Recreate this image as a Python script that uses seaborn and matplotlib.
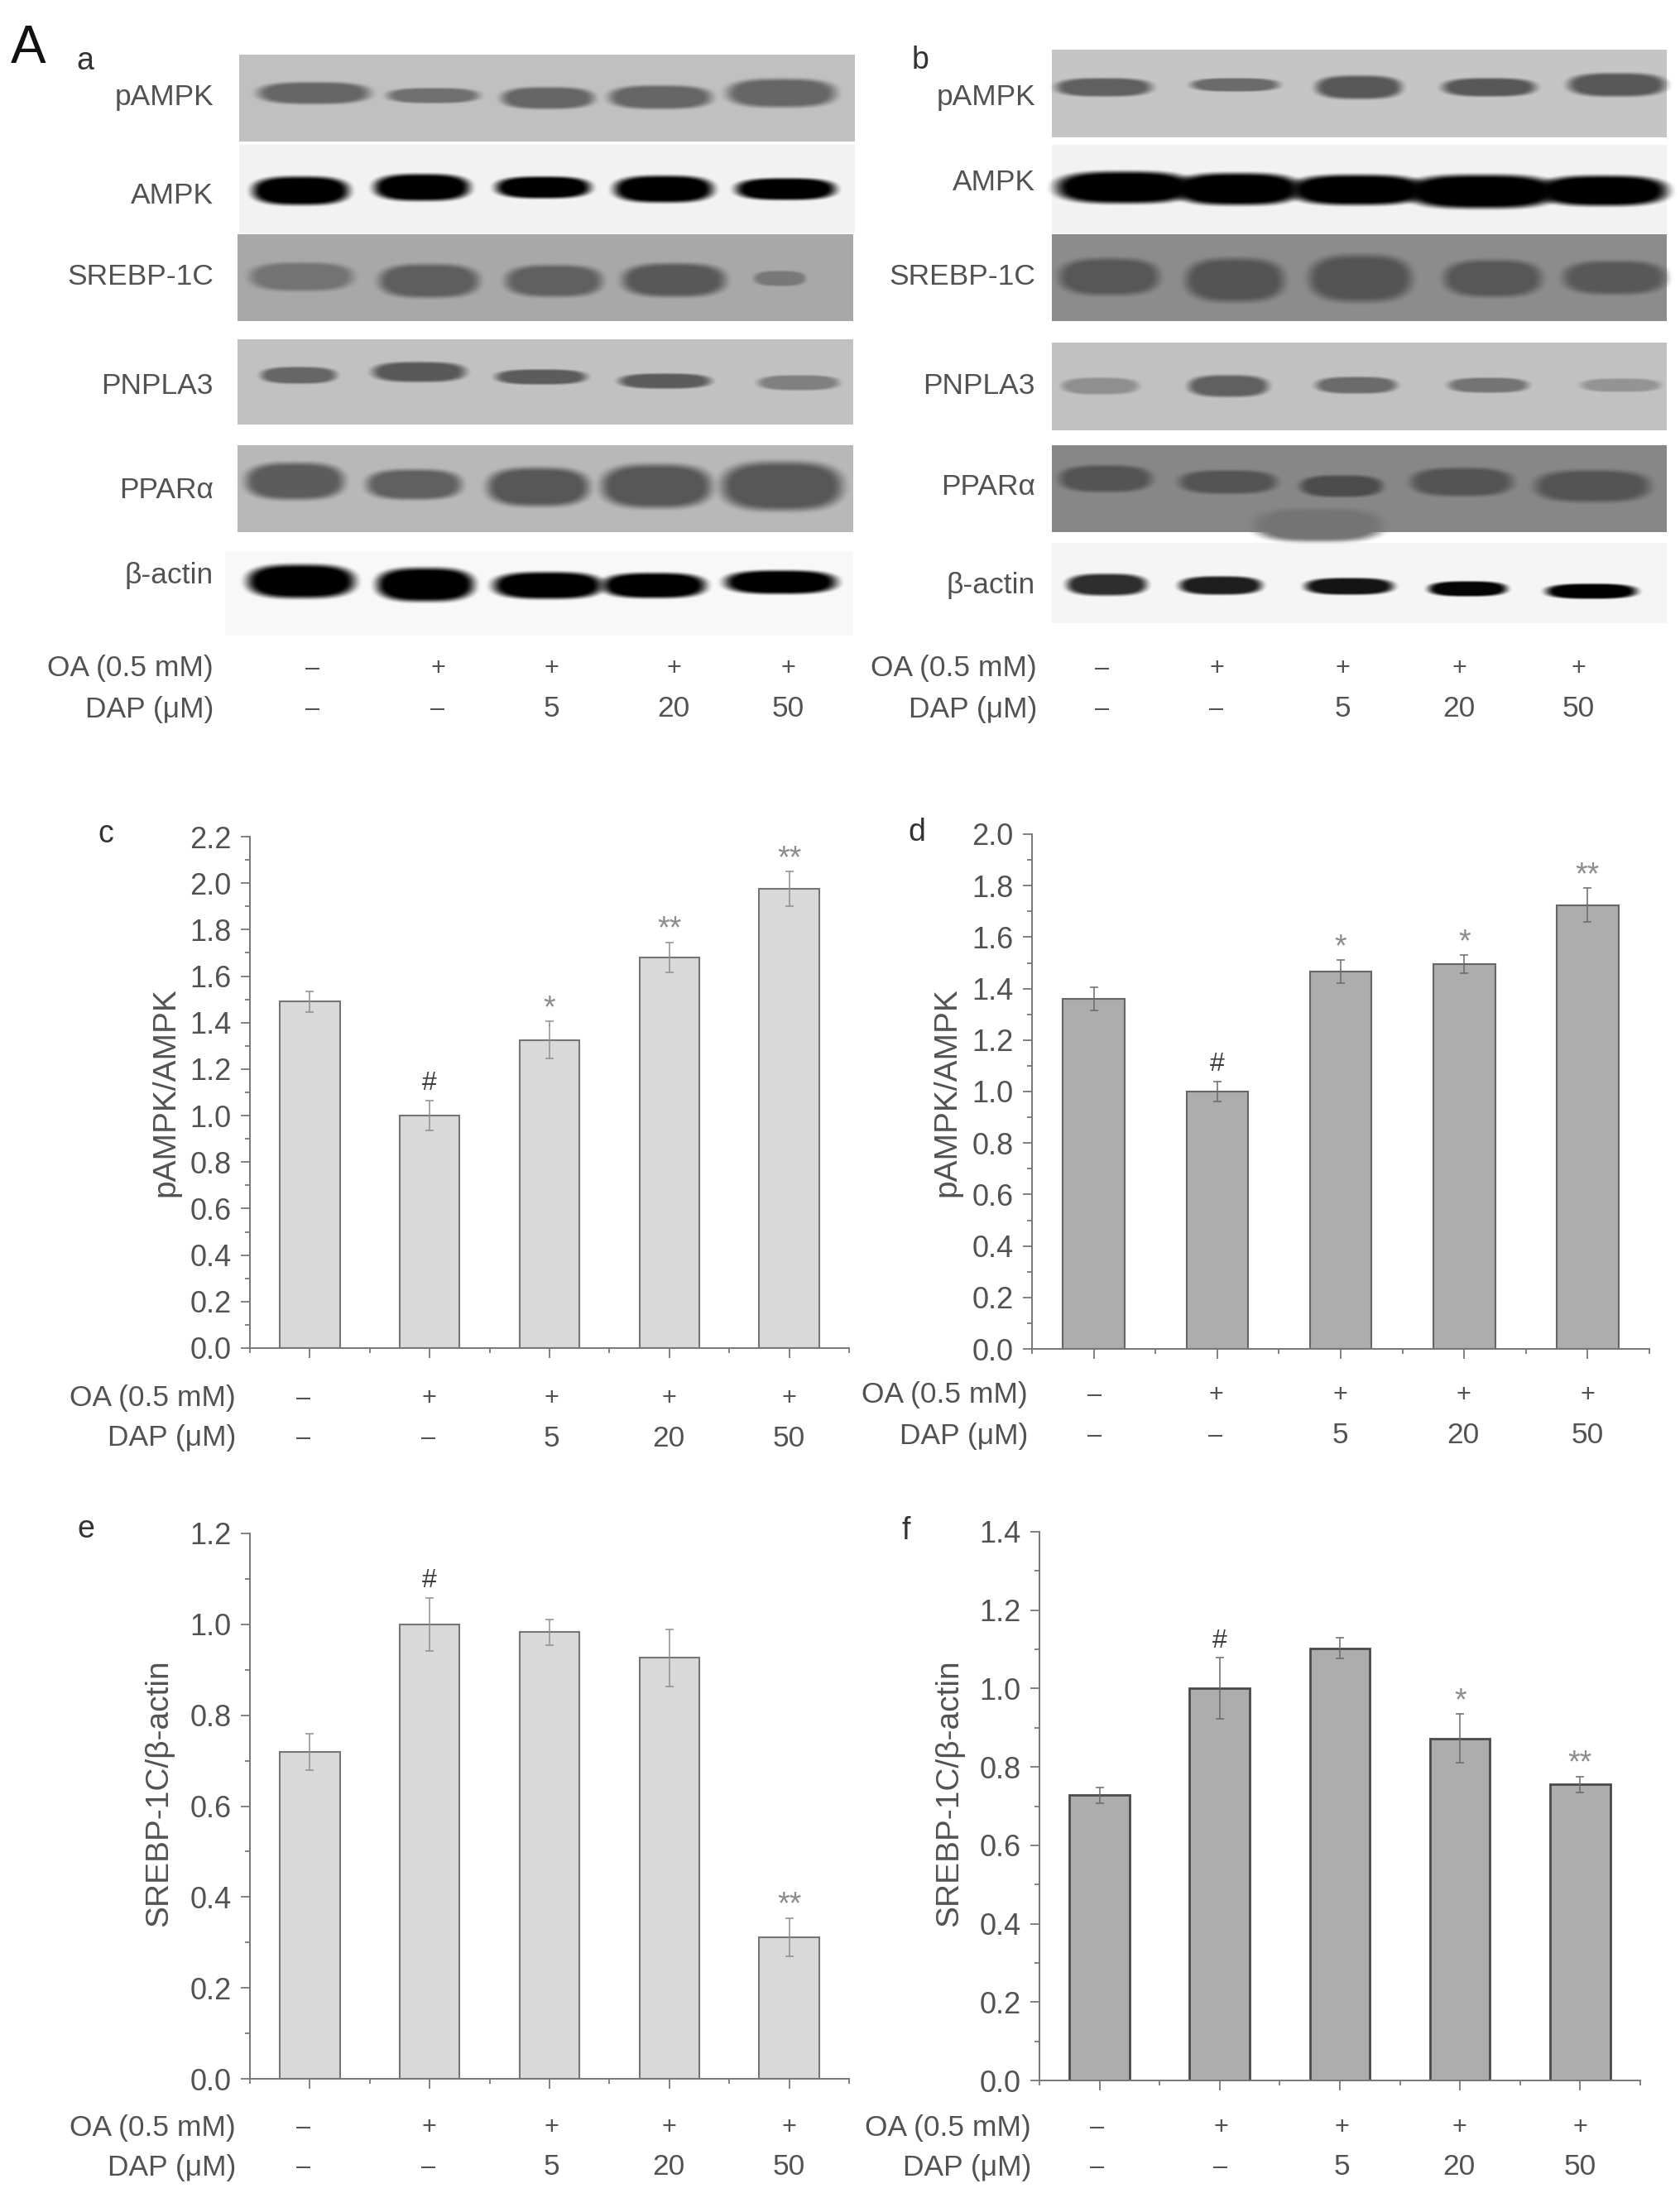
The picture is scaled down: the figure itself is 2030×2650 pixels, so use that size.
import numpy as np
import pandas as pd
import matplotlib
matplotlib.use("Agg")
import matplotlib.pyplot as plt
import seaborn as sns
from matplotlib.ticker import MultipleLocator, FixedLocator

W, H = 2031, 2650

sns.set_theme(style="ticks")
plt.rcParams['font.family'] = ['Liberation Sans', 'DejaVu Sans']
TXT = '#525252'

# bar chart values
groups = ['Control', 'OA', 'OA+DAP5', 'OA+DAP20', 'OA+DAP50']
c_vals = [1.49, 1.00, 1.325, 1.68, 1.975]
c_errs = [0.045, 0.065, 0.08, 0.065, 0.075]
c_sig = ['', '#', '*', '**', '**']
d_vals = [1.36, 1.00, 1.465, 1.495, 1.725]
d_errs = [0.045, 0.04, 0.045, 0.035, 0.065]
d_sig = ['', '#', '*', '*', '**']
e_vals = [0.72, 1.00, 0.983, 0.926, 0.312]
e_errs = [0.04, 0.058, 0.028, 0.062, 0.042]
e_sig = ['', '#', '', '', '**']
f_vals = [0.728, 1.00, 1.103, 0.873, 0.755]
f_errs = [0.02, 0.078, 0.027, 0.062, 0.02]
f_sig = ['', '#', '', '*', '**']

oa_signs = ['–', '+', '+', '+', '+']
dap_signs = ['–', '–', '5', '20', '50']
blot_names = ['pAMPK', 'AMPK', 'SREBP-1C', 'PNPLA3', 'PPARα', 'β-actin']

# blot membranes: x0, x1, y0, y1, grey
rows_a = [(289, 1033, 66, 171, .75), (289, 1033, 175, 282, .95), (287, 1031, 283, 388, .66),
          (287, 1031, 410, 513, .76), (287, 1031, 538, 643, .72), (272, 1031, 667, 768, .97)]
rows_b = [(1271, 2014, 60, 166, .77), (1271, 2014, 175, 282, .95), (1271, 2014, 283, 388, .55),
          (1271, 2014, 414, 520, .76), (1271, 2014, 538, 643, .53), (1271, 2014, 656, 753, .96)]
# blot bands: x0, x1, y centre, half height, grey
bands_a = [
    (312, 446, 112, 13, .40), (468, 578, 115, 9, .44), (606, 717, 118, 13, .40), (736, 859, 117, 14, .40), (879, 1009, 112, 17, .40),
    (305, 421, 230, 17, 0), (452, 567, 226, 16, 0), (599, 713, 226, 13, 0), (742, 861, 228, 16, 0), (889, 1009, 228, 13, 0),
    (302, 426, 334, 17, .45), (458, 578, 339, 20, .37), (611, 727, 339, 19, .38), (752, 876, 338, 20, .35), (911, 973, 336, 9, .47),
    (315, 406, 453, 10, .40), (450, 562, 449, 12, .35), (599, 708, 455, 9, .36), (748, 858, 460, 9, .36), (916, 1013, 462, 9, .50),
    (297, 415, 581, 22, .36), (443, 557, 585, 18, .38), (589, 711, 588, 23, .34), (727, 859, 587, 26, .34), (872, 1017, 587, 29, .34),
    (299, 428, 702, 20, 0), (455, 572, 706, 20, 0), (596, 727, 707, 16, 0), (728, 852, 707, 15, 0), (876, 1010, 703, 14, 0)]
bands_b = [
    (1276, 1391, 105, 11, .38), (1439, 1545, 102, 8, .42), (1590, 1693, 105, 14, .35), (1743, 1855, 105, 11, .35), (1895, 2012, 102, 14, .35),
    (1276, 1440, 226, 19, 0), (1420, 1570, 228, 19, 0), (1560, 1720, 229, 18, 0), (1700, 1880, 231, 20, 0), (1860, 2014, 230, 18, 0),
    (1280, 1400, 334, 22, .34), (1433, 1551, 338, 26, .33), (1582, 1705, 336, 28, .33), (1745, 1862, 336, 22, .34), (1889, 2012, 335, 20, .35),
    (1283, 1375, 466, 10, .56), (1436, 1532, 466, 13, .38), (1590, 1687, 465, 10, .42), (1750, 1846, 465, 9, .46), (1910, 2006, 465, 8, .58),
    (1516, 1670, 634, 20, .46), (1280, 1391, 578, 16, .33), (1425, 1542, 582, 14, .33), (1571, 1670, 587, 13, .30), (1705, 1827, 582, 17, .33), (1855, 1993, 587, 19, .33),
    (1289, 1385, 706, 13, .18), (1425, 1524, 707, 11, .12), (1577, 1683, 708, 10, .08), (1726, 1820, 711, 9, .02), (1868, 1977, 714, 9, 0)]


def paint_blot(canvas, rows, bands):
    for x0, x1, y0, y1, grey in rows:
        canvas[y0:y1, x0:x1] = grey
    yy, xx = np.mgrid[0:H, 0:W]
    for x0, x1, yc, hh, grey in bands:
        xc, hw = (x0 + x1) / 2, (x1 - x0) / 2
        y_lo, y_hi = max(yc - hh - 14, 0), yc + hh + 14
        x_lo, x_hi = max(x0 - 14, 0), min(x1 + 14, W)
        dx = np.abs(xx[y_lo:y_hi, x_lo:x_hi] - xc) / hw
        dy = np.abs(yy[y_lo:y_hi, x_lo:x_hi] - yc) / hh
        r = (dx**3 + dy**2.4)**(1 / 2.6)
        a = np.clip((1.2 - r) / 0.42, 0, 1)
        a = a * a * (3 - 2 * a)
        patch = canvas[y_lo:y_hi, x_lo:x_hi]
        canvas[y_lo:y_hi, x_lo:x_hi] = patch * (1 - a) + grey * a


fig = plt.figure(figsize=(W / 100, H / 100), dpi=100, facecolor='white')

# whole-figure layer in pixel coordinates for the blots and labels
bg = fig.add_axes([0, 0, 1, 1], zorder=0)
img = np.ones((H, W))
paint_blot(img, rows_a, bands_a)
paint_blot(img, rows_b, bands_b)
bg.imshow(img, cmap='gray', vmin=0, vmax=1, extent=(0, W, H, 0), aspect='auto', interpolation='bilinear')
bg.set_xlim(0, W)
bg.set_ylim(H, 0)
bg.axis('off')


def label(x, y, s, size=25.5, ha='right', color=TXT, **kw):
    bg.text(x, y, s, fontsize=size, ha=ha, va='center', color=color, **kw)


def sign_rows(right, y_oa, y_dap, xs):
    label(right, y_oa, 'OA (0.5 mM)')
    label(right, y_dap, 'DAP (μM)')
    for x, a, b in zip(xs, oa_signs, dap_signs):
        label(x, y_oa, a, size=22, ha='center')
        label(x, y_dap, b, size=22 if b == '–' else 25.5, ha='center')


label(13, 59, 'A', size=46, ha='left', color='#111111')
label(92, 74, 'a', size=27, ha='left', color='#333333')
label(1102, 73, 'b', size=27, ha='left', color='#333333')
for name, y in zip(blot_names, [118, 236, 335, 466, 592, 695]):
    label(258, y, name)
for name, y in zip(blot_names, [118, 221, 334, 466, 589, 707]):
    label(1251, y, name)
sign_rows(258, 808, 857, [378, 529, 666, 814, 952])
sign_rows(1253, 808, 857, [1332, 1470, 1622, 1763, 1907])


def bar_panel(box, vals, errs, sig, ymax, fill, edge, err_col, edge_w=1.5):
    left, right, top, bottom = box
    ax = fig.add_axes([left / W, 1 - bottom / H, (right - left) / W, (bottom - top) / H], zorder=2)
    ax.patch.set_alpha(0)
    df = pd.DataFrame({'group': groups, 'value': vals})
    sns.barplot(data=df, x='group', y='value', color=fill, saturation=1, width=0.5,
                edgecolor=edge, linewidth=edge_w, errorbar=None, ax=ax)
    ax.errorbar(range(5), vals, yerr=errs, fmt='none', ecolor=err_col, elinewidth=1.1,
                capsize=3.4, capthick=1.1, zorder=5)
    for i, s in enumerate(sig):
        if s:
            top_y = vals[i] + errs[i]
            col = '#3d3d3d' if s == '#' else '#8c8c8c'
            off = 4 if s == '#' else -2
            fs = 23 if s == '#' else 27
            ax.annotate(s, (i, top_y), xytext=(0, off), textcoords='offset points',
                        ha='center', va='bottom', fontsize=fs, color=col)
    ax.set_xlim(-0.5, 4.5)
    ax.set_ylim(0, ymax)
    ax.yaxis.set_major_locator(MultipleLocator(0.2))
    ax.yaxis.set_minor_locator(MultipleLocator(0.1))
    ax.xaxis.set_minor_locator(FixedLocator([-0.5, 0.5, 1.5, 2.5, 3.5, 4.5]))
    ax.set_xticklabels([])
    ax.set_xlabel('')
    ax.set_ylabel('')
    ax.yaxis.set_major_formatter(lambda v, _: f'{v:.1f}')
    ax.tick_params(axis='y', which='major', length=8, width=1.3, color='#777777',
                   labelsize=26, labelcolor=TXT, pad=8)
    ax.tick_params(axis='y', which='minor', length=4, width=1.3, color='#777777')
    ax.tick_params(axis='x', which='major', length=8.5, width=1.3, color='#777777')
    ax.tick_params(axis='x', which='minor', length=4, width=1.3, color='#777777')
    sns.despine(ax=ax)
    for side in ['left', 'bottom']:
        ax.spines[side].set_color('#777777')
        ax.spines[side].set_linewidth(1.4)
    return ax


LIGHT, DARK = '#d9d9d9', '#adadad'
bar_panel((302, 1026, 1011, 1629), c_vals, c_errs, c_sig, 2.2, LIGHT, '#757575', '#8f8f8f')
bar_panel((1247, 1993, 1008, 1630), d_vals, d_errs, d_sig, 2.0, DARK, '#666666', '#6a6a6a')
bar_panel((302, 1026, 1853, 2512), e_vals, e_errs, e_sig, 1.2, LIGHT, '#757575', '#8f8f8f')
bar_panel((1256, 1982, 1851, 2514), f_vals, f_errs, f_sig, 1.4, DARK, '#4a4a4a', '#6a6a6a', edge_w=2)

# panel letters, axis titles and the OA/DAP rows under the bars
label(118, 1008, 'c', size=27, ha='left', color='#333333')
label(1097, 1006, 'd', size=27, ha='left', color='#333333')
label(93, 1848, 'e', size=27, ha='left', color='#333333')
label(1090, 1850, 'f', size=27, ha='left', color='#333333')
label(200, 1320, 'pAMPK/AMPK', size=28, ha='center', rotation=90)
label(1144, 1320, 'pAMPK/AMPK', size=28, ha='center', rotation=90)
label(192, 2167, 'SREBP-1C/β-actin', size=28, ha='center', rotation=90)
label(1147, 2167, 'SREBP-1C/β-actin', size=28, ha='center', rotation=90)
sign_rows(285, 1690, 1738, [367, 518, 666, 808, 953])
sign_rows(1242, 1686, 1735, [1323, 1469, 1619, 1768, 1918])
sign_rows(285, 2571, 2619, [367, 518, 666, 808, 953])
sign_rows(1246, 2571, 2619, [1326, 1475, 1621, 1763, 1909])

fig.savefig('out.png', dpi=100)
